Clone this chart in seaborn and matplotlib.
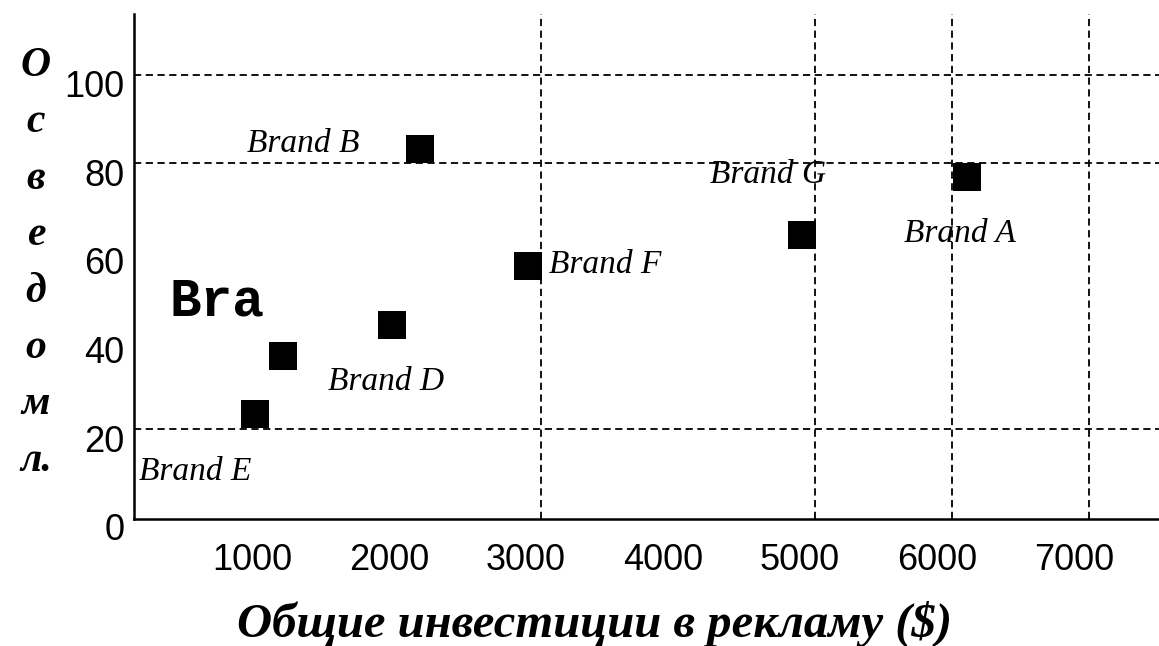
import pandas as pd
import seaborn as sns
import matplotlib.pyplot as plt
from matplotlib.transforms import ScaledTranslation

# data
brands = ['Brand E', 'Bra', 'Brand D', 'Brand B', 'Brand F', 'Brand G', 'Brand A']
invest = [911, 1115, 1911, 2116, 2905, 4906, 6111]
aware = [23.5, 36.6, 43.5, 83.2, 56.8, 63.8, 76.9]
x_ticks = [1000, 2000, 3000, 4000, 5000, 6000, 7000]
y_ticks = [0, 20, 40, 60, 80, 100]
x_grid = [3000, 5000, 6000, 7000]
y_grid = [20, 80, 100]

# where each label sits relative to its square (pixels, baseline)
label_offsets = [(-60, -66), (-66, 40), (-6, -65), (-117, -3), (77, -7), (-34, 52), (-7, -65)]

df = pd.DataFrame({'invest': invest, 'aware': aware, 'brand': brands})

sns.set_theme(style='white', rc={'text.color': 'black', 'xtick.color': 'black',
                                 'ytick.color': 'black', 'axes.edgecolor': 'black',
                                 'xtick.bottom': True, 'xtick.minor.bottom': True})
plt.rcParams['font.family'] = ['Liberation Serif', 'DejaVu Serif']

fig = plt.figure(figsize=(11.59, 6.46), dpi=100)
ax = fig.add_axes([134 / 1159, 127 / 646, 1025 / 1159, 505 / 646])

sns.scatterplot(data=df, x='invest', y='aware', marker='s', s=380,
                color='black', linewidth=0, ax=ax, zorder=3)

for (b, xv, yv), off in zip(zip(brands, invest, aware), label_offsets):
    if b == 'Bra':
        ax.annotate(b, (xv, yv), xytext=off, textcoords='offset pixels',
                    ha='center', va='baseline', fontsize=38, fontweight='bold',
                    family=['Liberation Mono', 'DejaVu Sans Mono'])
    else:
        ax.annotate(b, (xv, yv), xytext=off, textcoords='offset pixels',
                    ha='center', va='baseline', fontsize=24, fontstyle='italic',
                    family=['Liberation Serif', 'DejaVu Serif'])

# dashed grid only at a few positions
for v in x_grid:
    ax.axvline(v, color='black', linestyle=(0, (4, 2.5)), linewidth=1.3, zorder=1)
for v in y_grid:
    ax.axhline(v, color='black', linestyle=(0, (4, 2.5)), linewidth=1.3, zorder=1)

ax.set_xlim(27, 7513)
ax.set_ylim(-0.3, 113.7)
ax.set_xticks(x_ticks)
ax.set_yticks(y_ticks)
ax.set_xticks(x_grid, minor=True)
ax.set_xlabel('')
ax.set_ylabel('')

tick_font = ['Liberation Sans Narrow', 'Liberation Sans', 'DejaVu Sans']
ax.tick_params(axis='both', which='major', length=0, labelsize=26)
ax.tick_params(axis='x', which='major', pad=17)
ax.tick_params(axis='y', which='major', pad=7)
ax.tick_params(axis='x', which='minor', direction='in', length=6, width=1.5,
               color='black', bottom=True)
for lab in ax.get_xticklabels():
    lab.set_family(tick_font)
    lab.set_transform(lab.get_transform() + ScaledTranslation(-15 / 100, 0, fig.dpi_scale_trans))
for lab in ax.get_yticklabels():
    lab.set_family(tick_font)
    lab.set_transform(lab.get_transform() + ScaledTranslation(0, -9 / 100, fig.dpi_scale_trans))

for s in ['top', 'right']:
    ax.spines[s].set_visible(False)
for s in ['left', 'bottom']:
    ax.spines[s].set_color('black')
    ax.spines[s].set_linewidth(1.8)

# x axis title
fig.text(595 / 1159, 9 / 646, 'Общие инвестиции в рекламу ($)', ha='center', va='baseline',
         fontsize=35, fontweight='bold', fontstyle='italic')

# y axis title, one letter per line
letters = ['О', 'с', 'в', 'е', 'д', 'о', 'м', 'л.']
for i, ch in enumerate(letters):
    fig.text(36 / 1159, 1 - (76 + i * 56.4) / 646, ch, ha='center', va='baseline',
             fontsize=30, fontweight='bold', fontstyle='italic')

fig.savefig('out.png', dpi=100)
